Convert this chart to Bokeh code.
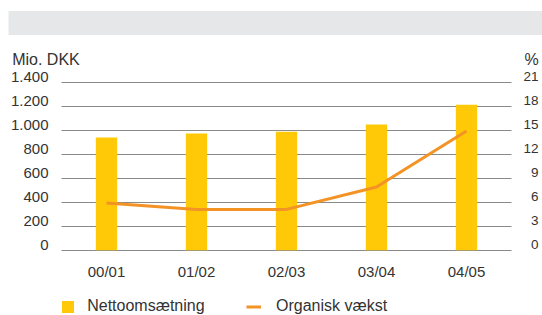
from bokeh.plotting import figure
from bokeh.models import (Range1d, LinearAxis, FixedTicker, Legend, LegendItem,
                          ColumnDataSource, Grid, BoxAnnotation, Label)
from bokeh.embed import file_html
from bokeh.resources import INLINE

# ---------------- data ----------------
categories = ["00/01", "01/02", "02/03", "03/04", "04/05"]
revenue = [939, 972, 987, 1047, 1212]          # Mio. DKK (left axis)
growth = [5.9, 5.1, 5.1, 7.9, 14.9]            # % (right axis)
left_ticks = [0, 200, 400, 600, 800, 1000, 1200, 1400]
left_labels = ["0", "200", "400", "600", "800", "1.000", "1.200", "1.400"]
right_ticks = [0, 3, 6, 9, 12, 15, 18, 21]
right_labels = ["0", "3", "6", "9", "12", "15", "18", "21"]
left_unit = "Mio. DKK"
right_unit = "%"
series_names = ["Nettoomsætning", "Organisk vækst"]

# ---------------- style / layout (page pixels) ----------------
FONT = "Liberation Sans"
TXT = "#333333"
BAR = "#FFC907"
LINE = "#F39325"
GRID = "#8a8a8a"
BAND = "#E6E7E8"

W, H, PAGE = 542, 315, 0          # the figure sits at the page origin
n = len(categories)
FX0, FX1 = 61.0, 511.0            # page x of category span
UX = (FX1 - FX0) / n              # px per category
Y0 = 249.7                        # page y of value 0
LIFT = 5.5                        # tick texts sit above their grid lines
K_REV, K_PCT = 0.12, 8.0          # px per unit

def xr(px):
    return (px - FX0) / UX

def yr(py, y0=Y0, k=K_REV):
    return (y0 - py) / k

x_range = Range1d(xr(PAGE), xr(PAGE + W))
y_range = Range1d(yr(PAGE + H), yr(PAGE))

p = figure(width=W, height=H, output_backend="svg", toolbar_location=None,
           x_range=x_range, y_range=y_range,
           x_axis_location=None, y_axis_location=None,
           min_border=0, min_border_left=0, min_border_right=0,
           min_border_top=0, min_border_bottom=0)
p.outline_line_color = None
p.xgrid.visible = False
p.ygrid.visible = False

p.extra_y_ranges = {
    "pct": Range1d(yr(PAGE + H, Y0, K_PCT), yr(PAGE, Y0, K_PCT)),
    "lab_l": Range1d(yr(PAGE + H, Y0 - LIFT, K_REV),
                     yr(PAGE, Y0 - LIFT, K_REV)),
    "lab_r": Range1d(yr(PAGE + H, Y0 - LIFT, K_PCT),
                     yr(PAGE, Y0 - LIFT, K_PCT)),
}

# top band
p.add_layout(BoxAnnotation(left=xr(8), right=xr(PAGE + W),
                           top=yr(10.4), bottom=yr(34.6),
                           fill_color=BAND, fill_alpha=1, line_color=None,
                           level="underlay"))

# grid
grid = Grid(dimension=1, ticker=FixedTicker(ticks=left_ticks),
            cross_bounds=(0, n), grid_line_color=GRID, grid_line_width=1.2)
p.add_layout(grid, "center")

idx = [i + 0.5 for i in range(n)]
src = ColumnDataSource(dict(x=idx, cat=categories, rev=revenue, gr=growth))
bars = p.vbar(x="x", top="rev", width=0.237, source=src, fill_color=BAR,
              line_color=None)
ln = p.line(x="x", y="gr", source=src, line_color=LINE, line_width=3,
            y_range_name="pct")


def plain(ax, size, standoff):
    ax.axis_line_color = None
    ax.major_tick_line_color = None
    ax.minor_tick_line_color = None
    ax.major_tick_in = 0
    ax.major_tick_out = 0
    ax.major_label_standoff = standoff
    ax.major_label_text_font = FONT
    ax.major_label_text_font_size = size
    ax.major_label_text_color = TXT


xa = LinearAxis(ticker=FixedTicker(ticks=idx), fixed_location=0)
xa.major_label_overrides = {x: c for x, c in zip(idx, categories)}
plain(xa, "15px", 13)
p.add_layout(xa, "below")

ya = LinearAxis(ticker=FixedTicker(ticks=left_ticks), fixed_location=0,
                y_range_name="lab_l")
ya.major_label_overrides = {t: l for t, l in zip(left_ticks, left_labels)}
plain(ya, "15px", 13)
p.add_layout(ya, "left")

ra = LinearAxis(ticker=FixedTicker(ticks=right_ticks), fixed_location=n,
                y_range_name="lab_r")
ra.major_label_overrides = {t: (l if len(l) == 2 else "\u2007" + l)
                            for t, l in zip(right_ticks, right_labels)}
plain(ra, "13.5px", 12)
p.add_layout(ra, "right")

# unit captions
p.add_layout(Label(x=xr(11.7), y=yr(58.5), text=left_unit, text_font=FONT,
                   text_font_size="16px", text_color=TXT,
                   text_baseline="alphabetic", text_align="left"))
p.add_layout(Label(x=xr(538.3), y=yr(58.8), text=right_unit, text_font=FONT,
                   text_font_size="16px", text_color=TXT,
                   text_baseline="alphabetic", text_align="right"))

# legends
common = dict(orientation="horizontal", glyph_width=15, glyph_height=15,
              label_height=15, padding=0, margin=0, border_line_color=None,
              background_fill_alpha=0, label_text_font=FONT,
              label_text_font_size="16px", label_text_color=TXT)
leg1 = Legend(items=[LegendItem(label=series_names[0], renderers=[bars])],
              location=(60.2 - PAGE, 0), label_standoff=12, **common)
leg2 = Legend(items=[LegendItem(label=series_names[1], renderers=[ln])],
              location=(246 - PAGE, 0), label_standoff=15, **common)
p.add_layout(leg1, "center")
p.add_layout(leg2, "center")

open("out.html", "w").write(file_html(p, INLINE))
